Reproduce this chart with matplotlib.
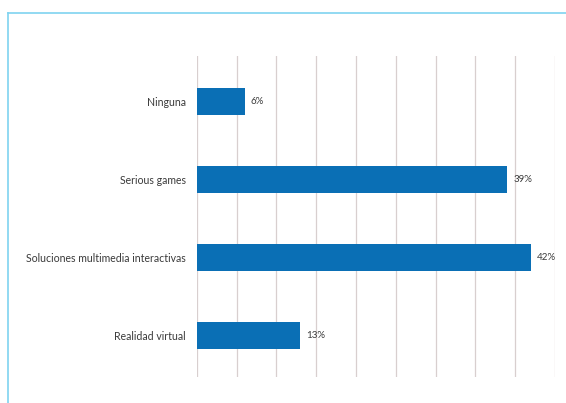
import matplotlib
matplotlib.use("Agg")
import matplotlib.pyplot as plt

categories = ["Ninguna", "Serious games", "Soluciones multimedia interactivas", "Realidad virtual"]
values = [6, 39, 42, 13]
value_labels = ["6%", "39%", "42%", "13%"]
grid_ticks = [0, 5, 10, 15, 20, 25, 30, 35, 40, 45]

plt.rcParams["font.family"] = ["Lato", "DejaVu Sans"]

W, H = 566, 403
fig = plt.figure(figsize=(W / 100, H / 100), dpi=100)
fig.patch.set_facecolor("white")

# light blue frame open to the right and bottom
frame_color = "#7fd3f0"
fig.add_artist(plt.Line2D([8 / W, 8 / W], [0, 1 - 13 / H], transform=fig.transFigure,
                          color=frame_color, lw=1.2))
fig.add_artist(plt.Line2D([8 / W, 1], [1 - 13 / H, 1 - 13 / H], transform=fig.transFigure,
                          color=frame_color, lw=1.2))

ax = fig.add_axes([196.8 / W, 1 - 377 / H, (555 - 196.8) / W, (377 - 56) / H])
ax.set_facecolor("white")

ypos = list(range(len(categories)))
ax.barh(ypos, values, height=0.35, color="#0a6fb5", zorder=3)

for y, v, lab in zip(ypos, values, value_labels):
    ax.text(v + 0.75, y, lab, va="center", ha="left", fontsize=7, color="#3a3a3a")

ax.set_xlim(0, 45)
ax.set_ylim(3.53, -0.58)
ax.set_xticks(grid_ticks)
ax.set_xticklabels([])
ax.set_yticks(ypos)
ax.set_yticklabels(categories, fontsize=7.6, color="#3a3a3a")
ax.tick_params(axis="both", length=0)
ax.tick_params(axis="y", pad=8)
ax.grid(axis="x", color="#d8cfcf", lw=0.9, zorder=0)
for s in ax.spines.values():
    s.set_visible(False)

fig.savefig("out.png", dpi=100, facecolor="white")
